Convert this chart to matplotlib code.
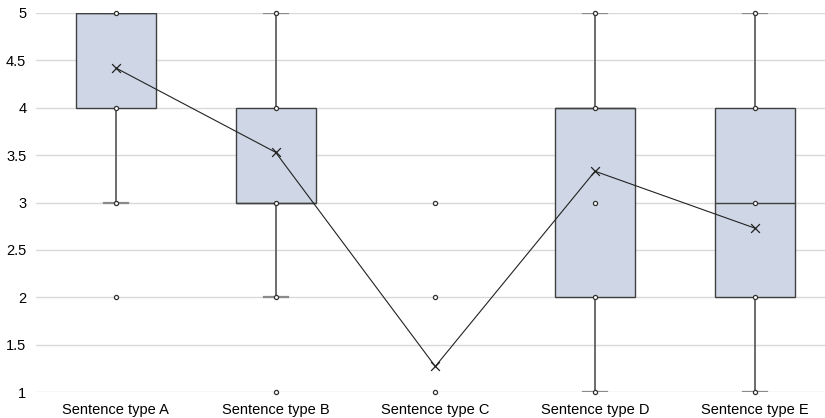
import matplotlib
matplotlib.use("Agg")
import matplotlib.pyplot as plt

categories = ["Sentence type A", "Sentence type B", "Sentence type C", "Sentence type D", "Sentence type E"]
q1 = [4, 3, 1, 2, 2]
median = [5, 3, 1, 4, 3]
q3 = [5, 4, 1, 4, 4]
whislo = [3, 2, 1, 1, 1]
whishi = [5, 5, 1, 5, 5]
means = [4.42, 3.53, 1.27, 3.33, 2.73]
points = [[5, 4, 3, 2], [5, 4, 3, 2, 1], [3, 2, 1], [5, 4, 3, 2, 1], [5, 4, 3, 2, 1]]
yticks = [1, 1.5, 2, 2.5, 3, 3.5, 4, 4.5, 5]
ytick_labels = ["1", "1.5", "2", "2.5", "3", "3.5", "4", "4.5", "5"]

plt.rcParams['font.family'] = ['Liberation Sans', 'DejaVu Sans']

fig = plt.figure(figsize=(8.25, 4.18), dpi=100)
ax = fig.add_axes([36/825, 26/418, 789/825, 379/418])

stats = []
for i in range(len(categories)):
    stats.append(dict(label=categories[i], q1=q1[i], med=median[i], q3=q3[i],
                      whislo=whislo[i], whishi=whishi[i], fliers=[], mean=means[i]))

pos = list(range(len(categories)))
art = ax.bxp(stats, positions=pos, widths=0.5, patch_artist=True, showmeans=False,
             showfliers=False,
             boxprops=dict(facecolor="#CFD7E6", edgecolor="#404040", linewidth=1.0),
             medianprops=dict(color="#404040", linewidth=1.0),
             whiskerprops=dict(color="#606060", linewidth=1.3),
             capprops=dict(color="#8A8A8A", linewidth=1.6),
             capwidths=0.15, zorder=3)

# hide degenerate (zero-height) boxes and whiskers
for i in range(len(categories)):
    if q1[i] == q3[i]:
        art['boxes'][i].set_visible(False)
        art['medians'][i].set_visible(False)
        for w in art['whiskers'][2*i:2*i+2]:
            w.set_visible(False)
        for c in art['caps'][2*i:2*i+2]:
            c.set_visible(False)

for i, pts in enumerate(points):
    ax.scatter([pos[i]] * len(pts), pts, s=9, facecolor="white", edgecolor="#333333",
               linewidths=0.9, zorder=5, clip_on=False)

ax.plot(pos, means, color="#222222", linewidth=0.8, zorder=6)
ax.scatter(pos, means, marker="x", s=40, color="#222222", linewidths=0.9, zorder=7)

ax.set_ylim(1, 5)
ax.set_xlim(-0.5, 4.44)
ax.set_yticks(yticks)
ax.set_yticklabels(ytick_labels)
ax.set_xticks(pos)
ax.set_xticklabels(categories)
ax.yaxis.grid(True, color="#D9D9D9", linewidth=1.0, zorder=0)
ax.set_axisbelow(True)
for s in ax.spines.values():
    s.set_visible(False)
ax.tick_params(axis="both", length=0, labelsize=10.5, colors="#000000")
ax.tick_params(axis="y", pad=7)
ax.tick_params(axis="x", pad=8)

fig.savefig("out.png", dpi=100)
